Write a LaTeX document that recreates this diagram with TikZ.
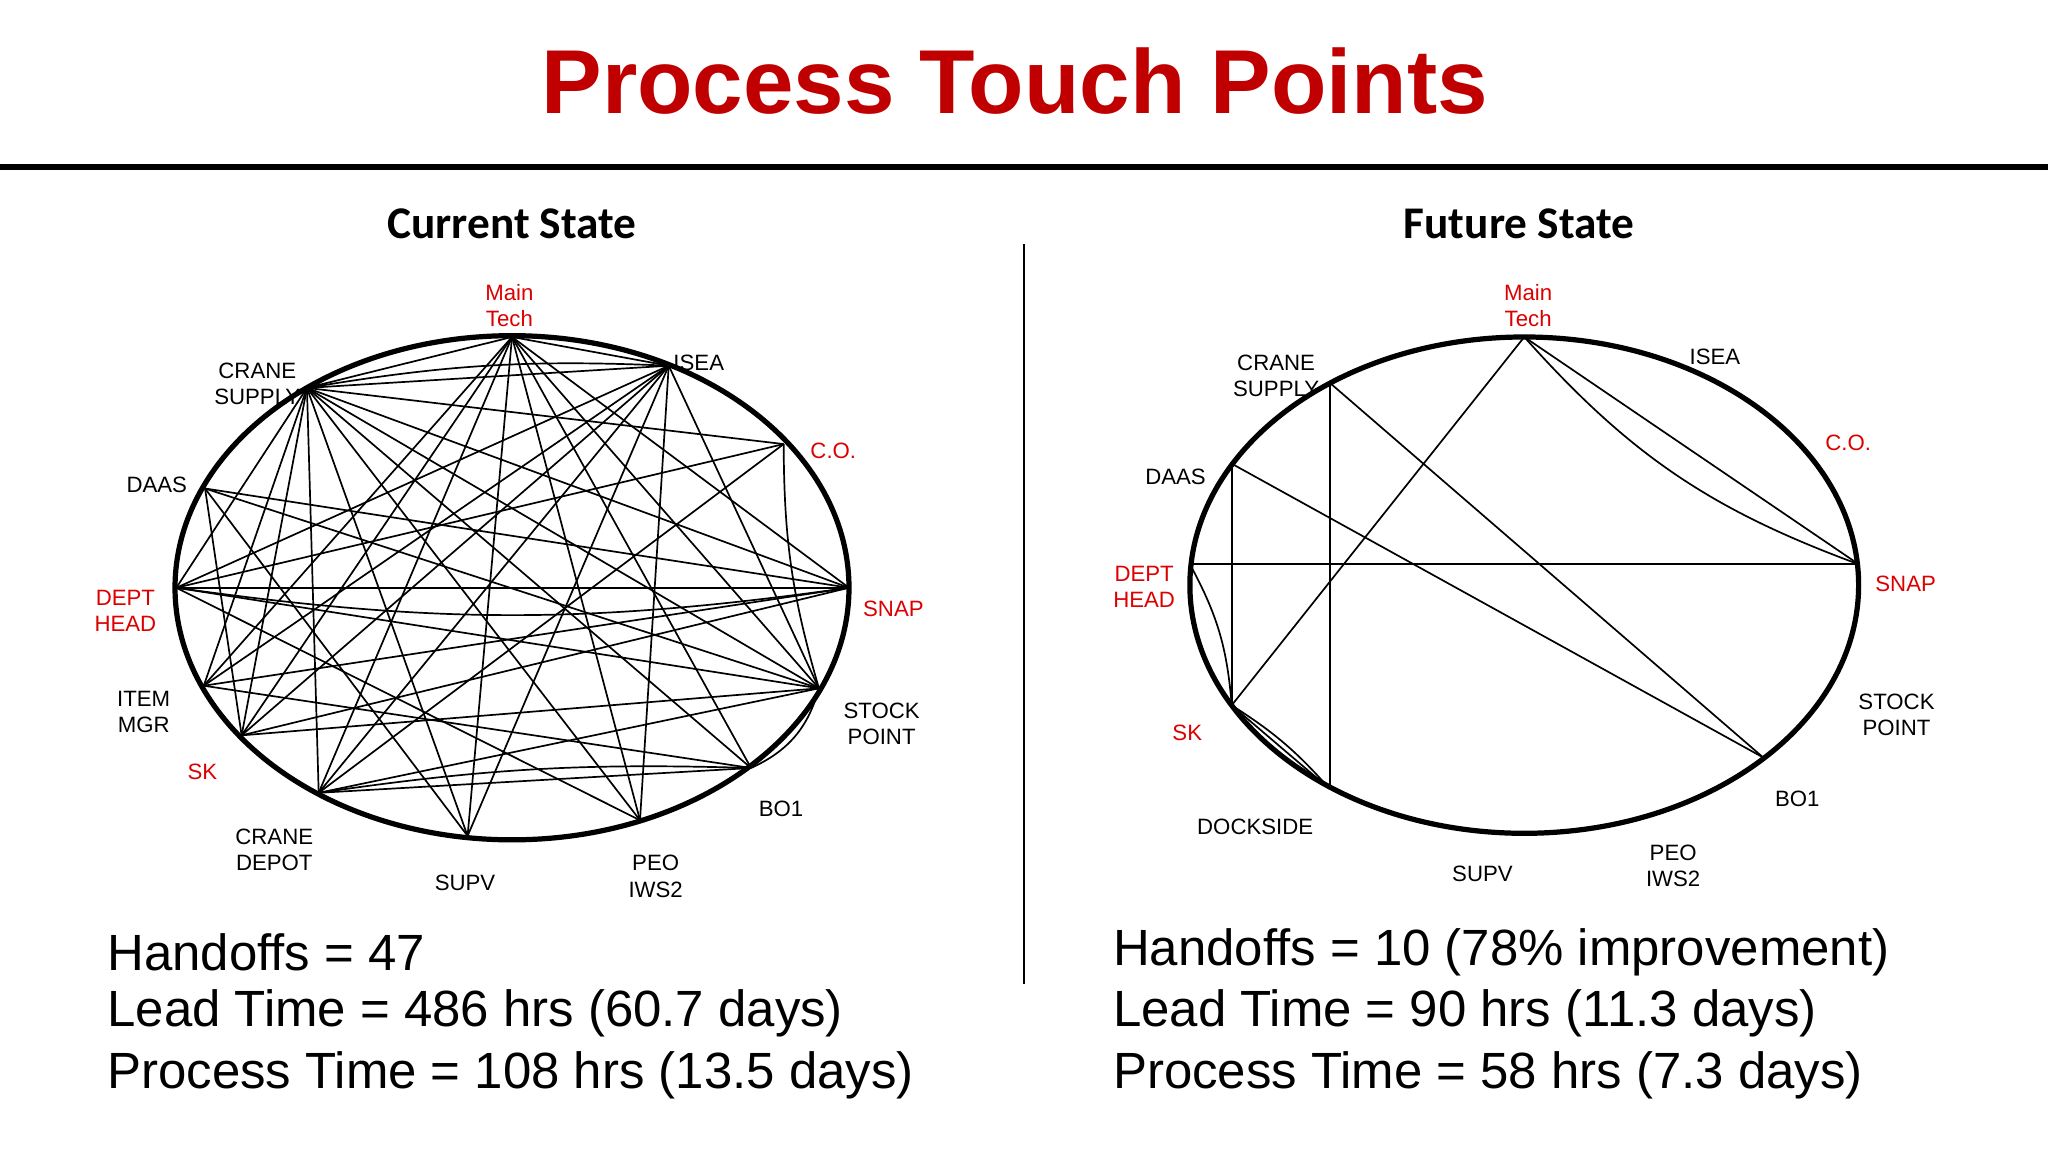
\documentclass[tikz,border=0pt]{standalone}
\usepackage{fontspec}
\setmainfont{Liberation Sans}
\newfontfamily\carlitofont{Carlito}
\begin{document}
\begin{tikzpicture}[x=1pt,y=-1pt,
  lbl/.style={font=\fontsize{17}{20}\selectfont,align=center,inner sep=0pt},
  rl/.style={lbl,text={rgb,255:red,220;green,0;blue,0}},
  edge/.style={line width=1.3pt},
  ring/.style={line width=4pt},
  stat/.style={font=\fontsize{39}{45}\selectfont,anchor=west,inner sep=0pt}]
\useasboundingbox (0,0) rectangle (1568,882);
\definecolor{tred}{RGB}{192,0,0}
\node[font=\fontsize{69.5}{78}\selectfont\bfseries,text=tred] (title) at (777,62) {Process Touch Points};
\draw[line width=5pt] (0,128) coordinate (hl) -- (1568,128) coordinate (hr);
\draw[line width=1.2pt] (784,187) coordinate (vt) -- (784,753) coordinate (vb);
\node[font=\carlitofont\fontsize{34.7}{38}\selectfont\bfseries] (h1) at (392,171) {Current State};
\node[font=\carlitofont\fontsize{34.7}{38}\selectfont\bfseries] (h2) at (1163,171) {Future State};
% left
\draw[ring] (392,450) ellipse [x radius=258,y radius=193];
\foreach \n/\x/\y in {M/392/258,I/512/280,C/600/340,SN/650/450,ST/627/527,B/575/588,P/490/628,SU/358/640,CD/244/607,SK/185/563,IM/156/525,DH/135/450,DA/157/374,CS/235/297}
  \coordinate (\n) at (\x,\y);
\foreach \a/\b in {M/I,M/CS,M/SN,M/ST,M/B,M/P,M/SU,M/CD,M/SK,M/IM,I/CS,I/DH,I/IM,I/SK,I/CD,I/SU,I/P,I/ST,CS/C,CS/ST,CS/SN,CS/B,CS/P,CS/SU,CS/CD,CS/SK,CS/IM,CS/DH,C/DH,C/CD,DA/SN,DA/ST,DA/SU,DA/SK,DH/SN,DH/ST,DH/P,IM/SN,IM/B,SK/ST,SK/SN,CD/ST,CD/B}
  \draw[edge] (\a) -- (\b);
\draw[edge] (I) to[bend right=6] (CS);
\draw[edge] (DH) to[bend right=8] (SN);
\draw[edge] (C) to[bend right=8] (ST);
\draw[edge] (ST) to[bend left=25] (B);
\draw[edge] (CD) to[bend left=5] (B);
\node[rl] (lM) at (390,234) {Main\\Tech};
\node[lbl] (lCS) at (197,294) {CRANE\\SUPPLY};
\node[lbl] (lI) at (535,278) {ISEA};
\node[rl] (lC) at (638,345) {C.O.};
\node[lbl] (lDA) at (120,371) {DAAS};
\node[rl] (lDH) at (96,468) {DEPT\\HEAD};
\node[rl] (lSN) at (684,466) {SNAP};
\node[lbl] (lIM) at (110,545) {ITEM\\MGR};
\node[lbl] (lST) at (675,554) {STOCK\\POINT};
\node[rl] (lSK) at (155,591) {SK};
\node[lbl] (lB) at (598,619) {BO1};
\node[lbl] (lCD) at (210,651) {CRANE\\DEPOT};
\node[lbl] (lSU) at (356,676) {SUPV};
\node[lbl] (lP) at (502,671) {PEO\\IWS2};
% right
\draw[ring] (1167,448) ellipse [x radius=256,y radius=190];
\foreach \n/\x/\y in {RM/1167/258,RSN/1423/432,RB/1350/580,RCS/1018/293,RDA/943/355,RDH/911/432,RSK/943/540,RDK/1018/604}
  \coordinate (\n) at (\x,\y);
\foreach \a/\b in {RM/RSK,RM/RSN,RCS/RDK,RCS/RB,RDA/RSK,RDA/RB,RDH/RSN,RSK/RDK}
  \draw[edge] (\a) -- (\b);
\draw[edge] (RM) to[bend right=14] (RSN);
\draw[edge] (RDH) to[bend left=12] (RSK);
\draw[edge] (RSK) to[bend left=8] (RDK);
\node[rl] (rM) at (1170,234) {Main\\Tech};
\node[lbl] (rCS) at (977,288) {CRANE\\SUPPLY};
\node[lbl] (rI) at (1313,273) {ISEA};
\node[rl] (rC) at (1415,339) {C.O.};
\node[lbl] (rDA) at (900,365) {DAAS};
\node[rl] (rDH) at (876,449) {DEPT\\HEAD};
\node[rl] (rSN) at (1459,447) {SNAP};
\node[lbl] (rST) at (1452,547) {STOCK\\POINT};
\node[rl] (rSK) at (909,561) {SK};
\node[lbl] (rB) at (1376,612) {BO1};
\node[lbl] (rDK) at (961,633) {DOCKSIDE};
\node[lbl] (rSU) at (1135,669) {SUPV};
\node[lbl] (rP) at (1281,663) {PEO\\IWS2};
% stats
\node[stat] (s1) at (82,729) {Handoffs = 47};
\node[stat] (s2) at (82,776) {Lead Time = 486 hrs (60.7 days)};
\node[stat] (s3) at (82,823) {Process Time = 108 hrs (13.5 days)};
\node[stat] (s4) at (852,729) {Handoffs = 10 (78\% improvement)};
\node[stat] (s5) at (852,776) {Lead Time = 90 hrs (11.3 days)};
\node[stat] (s6) at (852,823) {Process Time = 58 hrs (7.3 days)};
\end{tikzpicture}
\end{document}
